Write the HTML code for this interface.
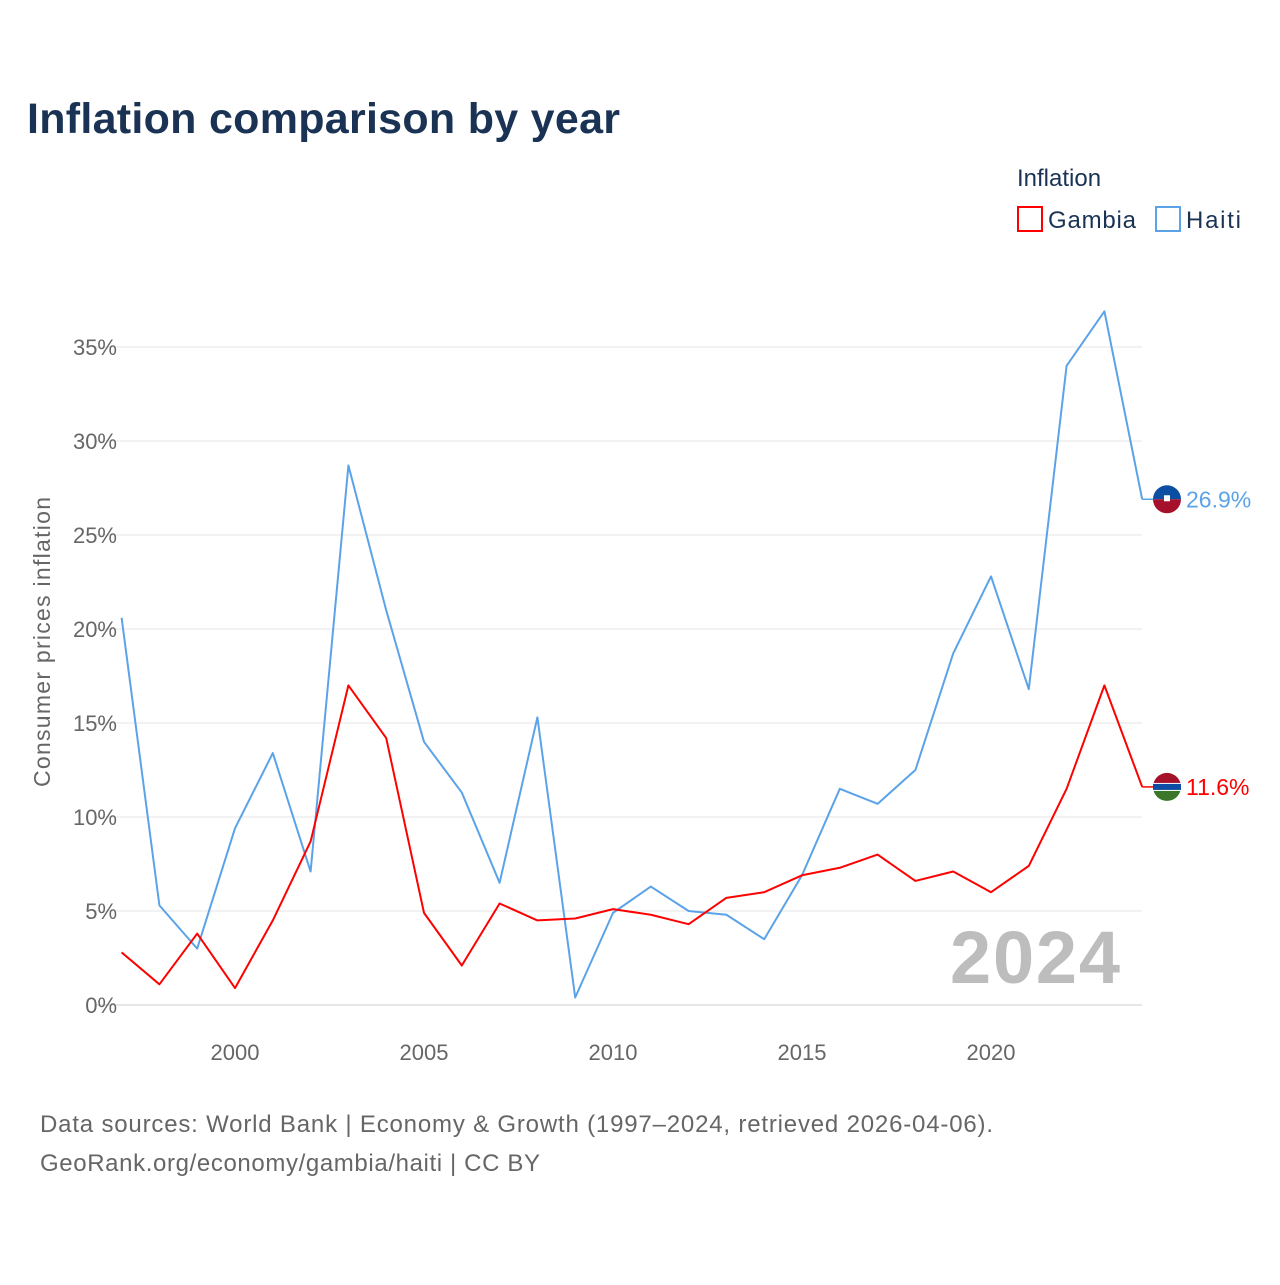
<!DOCTYPE html>
<html><head><meta charset="utf-8"><style>
body{margin:0;background:#fff;font-family:"Liberation Sans",sans-serif;}
svg text{font-family:"Liberation Sans",sans-serif;}
</style></head><body>
<svg id="chart" width="1280" height="1280" viewBox="0 0 1280 1280">
<rect width="1280" height="1280" fill="#fff"/>
<text x="27" y="133" font-size="43" font-weight="bold" fill="#1a3354" textLength="593">Inflation comparison by year</text>
<text x="1017" y="186" font-size="24" fill="#1a3354">Inflation</text>
<g><rect x="1018" y="207" width="24" height="24" fill="none" stroke="#ff0000" stroke-width="2"/><text x="1048" y="228" font-size="24" fill="#1a3354" textLength="88">Gambia</text></g>
<g><rect x="1156" y="207" width="24" height="24" fill="none" stroke="#5ba3e8" stroke-width="2"/><text x="1186" y="228" font-size="24" fill="#1a3354" textLength="55">Haiti</text></g>
<g id="grid"></g><g id="yticks"></g><g id="xticks"></g>
<text transform="translate(50,642) rotate(-90)" text-anchor="middle" font-size="23" fill="#666" textLength="290">Consumer prices inflation</text>
<text x="1120" y="983" text-anchor="end" font-size="74" font-weight="bold" fill="#bdbdbd" textLength="170">2024</text>
<g id="series"></g>
<text x="40" y="1132" font-size="24" fill="#666" textLength="953">Data sources: World Bank | Economy &amp; Growth (1997–2024, retrieved 2026-04-06).</text>
<text x="40" y="1171" font-size="24" fill="#666" textLength="500">GeoRank.org/economy/gambia/haiti | CC BY</text>
</svg>
<script>
const years=[1997,1998,1999,2000,2001,2002,2003,2004,2005,2006,2007,2008,2009,2010,2011,2012,2013,2014,2015,2016,2017,2018,2019,2020,2021,2022,2023,2024];
const haiti=[20.6,5.3,3.0,9.4,13.4,7.1,28.7,21.0,14.0,11.3,6.5,15.3,0.4,4.9,6.3,5.0,4.8,3.5,6.9,11.5,10.7,12.5,18.7,22.8,16.8,34.0,36.9,26.9];
const gambia=[2.8,1.1,3.8,0.9,4.5,8.7,17.0,14.2,4.9,2.1,5.4,4.5,4.6,5.1,4.8,4.3,5.7,6.0,6.9,7.3,8.0,6.6,7.1,6.0,7.4,11.5,17.0,11.6];
const yTicks=[0,5,10,15,20,25,30,35];
const xTicks=[2000,2005,2010,2015,2020];
const NS="http://www.w3.org/2000/svg";
const X=y=>121.6+(y-1997)*37.8;
const Y=v=>1005-v*18.8;
function mk(t,a,p){const e=document.createElementNS(NS,t);for(const k in a)e.setAttribute(k,a[k]);p.appendChild(e);return e;}
const grid=document.getElementById('grid'),yt=document.getElementById('yticks'),xt=document.getElementById('xticks'),sr=document.getElementById('series');
yTicks.forEach(v=>{
 const l=mk('line',{x1:95,x2:1142,y1:Y(v),y2:Y(v),stroke:v===0?'#ccc':'#e6e6e6','stroke-width':1},grid);
 
 
 const t=mk('text',{x:117,y:Y(v)+8,'text-anchor':'end','font-size':22,fill:'#666'},yt);
 t.textContent=v+'%';
 
 
});
xTicks.forEach(v=>{
 const t=mk('text',{x:X(v),y:1060,'text-anchor':'middle','font-size':22,fill:'#666'},xt);
 t.textContent=v;
 
 
});
function series(vals,color,name,c1,c2,stripe){
 const pts=vals.map((v,i)=>X(years[i])+','+Y(vals[i])).join(' ');
 const p=mk('polyline',{points:pts,fill:'none',stroke:color,'stroke-width':2,'stroke-linejoin':'round'},sr);
 
 
 const lv=vals[vals.length-1],lx=X(years[years.length-1]),ly=Y(lv);
 const c=mk('line',{x1:lx,x2:1153,y1:ly,y2:ly,stroke:color,'stroke-width':1.5},sr);
 
 
 const g=mk('g',{},sr);
 
 
 mk('path',{d:`M1153,${ly} a14,14 0 0 1 28,0 z`,fill:c1},g);
 mk('path',{d:`M1153,${ly} a14,14 0 0 0 28,0 z`,fill:c2},g);
 if(stripe){mk('rect',{x:1153,y:ly-4,width:28,height:8,fill:'#fff'},g);mk('rect',{x:1153,y:ly-3,width:28,height:6,fill:'#0c4ca3'},g);}
 else mk('rect',{x:1164,y:ly-4,width:6,height:6,fill:'#fff'},g);
 const t=mk('text',{x:1186,y:ly+8,'font-size':23,fill:color},sr);
 t.textContent=lv.toFixed(1)+'%';
 
 
}
series(haiti,'#5ba3e8','haiti','#0b4ea2','#a5112a',false);
series(gambia,'#ff0000','gambia','#a5112a','#3a7728',true);
</script>
</body></html>
